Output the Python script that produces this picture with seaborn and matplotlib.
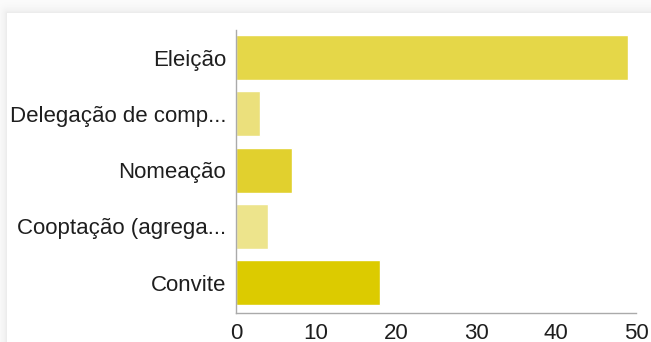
import numpy as np
import matplotlib
matplotlib.use("Agg")
import matplotlib.pyplot as plt
import seaborn as sns

# Survey answers: how members were chosen
categories = ["Eleição", "Delegação de comp...", "Nomeação", "Cooptação (agrega...", "Convite"]
counts = [49, 3, 7, 4, 18]
bar_colors = ["#e5d748", "#ebe07c", "#e1d02e", "#ede48c", "#dccb00"]
x_ticks = [0, 10, 20, 30, 40, 50]

sns.set_theme(style="white")
plt.rcParams["font.family"] = ["Liberation Sans", "DejaVu Sans"]

W, H = 651, 342
fig = plt.figure(figsize=(W / 100, H / 100), dpi=100)

# Card background with a soft shadow along the top and left edges
bg = fig.add_axes([0, 0, 1, 1], zorder=-5)
yy, xx = np.mgrid[0:H, 0:W]
card_x0, card_y0 = 7, 13
dx = np.clip(card_x0 - xx, 0, None)
dy = np.clip(card_y0 - yy, 0, None)
dist = np.sqrt(dx ** 2 + dy ** 2)
shade = np.where(dist > 0, 253 - 20 * np.exp(-dist / 5.0), 255).astype(float)
img = np.dstack([shade, shade, shade]) / 255.0
bg.imshow(img, extent=[0, W, H, 0], aspect="auto", interpolation="bilinear")
bg.set_xlim(0, W)
bg.set_ylim(H, 0)
bg.axis("off")

ax = fig.add_axes([236 / W, 29 / H, 400 / W, 283 / H])
ax.patch.set_alpha(0)
sns.barplot(x=counts, y=categories, hue=categories, palette=bar_colors,
            orient="h", width=0.8, legend=False, saturation=1, ax=ax)

ax.set_xlim(0, 50)
ax.set_ylim(4.54, -0.49)
ax.set_xticks(x_ticks)
ax.set_xticklabels([str(t) for t in x_ticks])
ax.set_xlabel("")
ax.set_ylabel("")

for side in ("top", "right"):
    ax.spines[side].set_visible(False)
for side in ("left", "bottom"):
    ax.spines[side].set_color("#aaaaaa")
    ax.spines[side].set_linewidth(1.0)

ax.tick_params(axis="both", which="major", direction="out", length=5, width=1,
               color="#aaaaaa", labelcolor="#1e1e1e", labelsize=16, pad=2)
ax.tick_params(axis="x", pad=2)
ax.grid(False)

fig.savefig("out.png", dpi=100)
